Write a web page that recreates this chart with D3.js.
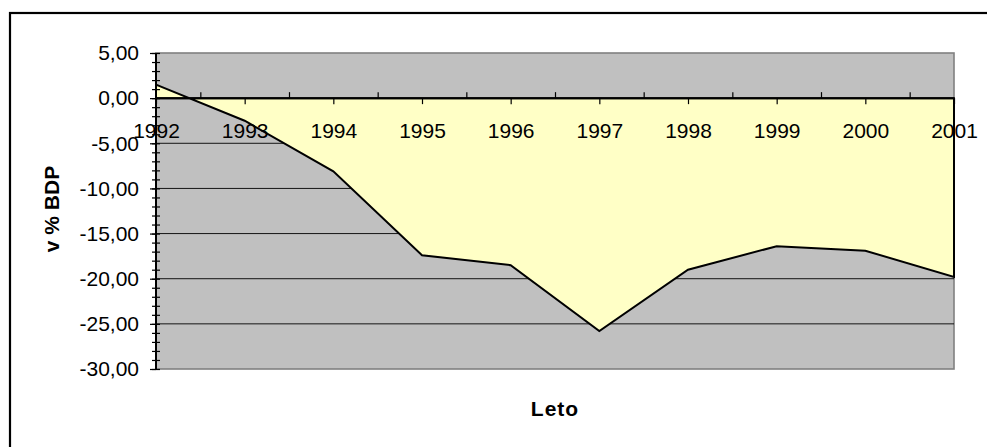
<!DOCTYPE html>
<html>
<head>
<meta charset="utf-8">
<script src="https://cdn.jsdelivr.net/npm/d3@7/dist/d3.min.js"></script>
<style>
  body { margin: 0; background: #fff; }
  svg { display: block; font-family: "Liberation Sans", Arial, sans-serif; }
  .axis path { display: none; }
  .axis line { stroke: #000; }
  .axis text { font-size: 21px; fill: #000; font-family: "Liberation Sans", Arial, sans-serif; }
  .title { font-size: 21px; font-weight: bold; fill: #000; }
</style>
</head>
<body>
<div id="chart"></div>
<script>
// Data
const years = [1992, 1993, 1994, 1995, 1996, 1997, 1998, 1999, 2000, 2001];
const values = [1.5, -2.5, -8.1, -17.4, -18.5, -25.8, -19.0, -16.4, -16.9, -19.8];
const yTicks = [5, 0, -5, -10, -15, -20, -25, -30];
const yTickLabels = ["5,00", "0,00", "-5,00", "-10,00", "-15,00", "-20,00", "-25,00", "-30,00"];
const yMinorTicks = d3.range(-30, 6, 1);
const xMinorTicks = years.slice(0, -1).map(d => d + 0.5);
const yTitle = "v % BDP";
const xTitle = "Leto";

function drawChart(width, height, selector) {

  ///////////////////////////////////////////
  //// Dimensions, scales and generators ////
  ///////////////////////////////////////////

  let margin = { top: 53, left: 156, right: 33, bottom: 78 };
  let chartWidth = width - margin.left - margin.right;
  let chartHeight = height - margin.top - margin.bottom;

  let xPositionScale = d3.scaleLinear()
    .domain([d3.min(years), d3.max(years)])
    .range([0, chartWidth]);

  let yPositionScale = d3.scaleLinear()
    .domain([-30, 5])
    .range([chartHeight, 0]);

  let area = d3.area()
    .x((d, i) => xPositionScale(years[i]))
    .y0(yPositionScale(0))
    .y1(d => yPositionScale(d));

  //////////////////////////
  /// Building the chart ///
  //////////////////////////

  let svg = d3.select(selector)
    .append("svg")
    .attr("width", width)
    .attr("height", height);

  // outer frame (right and bottom sides fall outside the picture)
  svg.append("rect")
    .attr("x", 10)
    .attr("y", 13)
    .attr("width", width + 20)
    .attr("height", height + 20)
    .attr("fill", "#fff")
    .attr("stroke", "#000")
    .attr("stroke-width", 2.2);

  let chart = svg.append("g")
    .attr("transform", "translate(" + margin.left + "," + margin.top + ")");

  // plot area
  chart.append("rect")
    .attr("width", chartWidth)
    .attr("height", chartHeight)
    .attr("fill", "#c0c0c0")
    .attr("stroke", "#808080")
    .attr("stroke-width", 1.6);

  // gridlines
  chart.append("g")
    .selectAll("line")
    .data(yTicks.filter(d => d < 0 && d > -30))
    .join("line")
    .attr("x1", 0)
    .attr("x2", chartWidth)
    .attr("y1", d => yPositionScale(d))
    .attr("y2", d => yPositionScale(d))
    .attr("stroke", "#000")
    .attr("stroke-width", 0.9);

  // area
  chart.append("path")
    .datum(values)
    .attr("d", area)
    .attr("fill", "#ffffc6")
    .attr("stroke", "#000")
    .attr("stroke-width", 2)
    .attr("stroke-linejoin", "miter");

  // zero line (category axis)
  chart.append("line")
    .attr("x1", 0)
    .attr("x2", chartWidth)
    .attr("y1", yPositionScale(0))
    .attr("y2", yPositionScale(0))
    .attr("stroke", "#000")
    .attr("stroke-width", 2);

  // x axis: major ticks down at years, minor ticks up in between
  let xAxis = d3.axisBottom(xPositionScale)
    .tickValues(years)
    .tickSize(6)
    .tickFormat(d3.format("d"));

  let xAxisG = chart.append("g")
    .attr("class", "axis x-axis")
    .attr("transform", "translate(0," + yPositionScale(0) + ")")
    .call(xAxis);

  xAxisG.selectAll(".tick line").attr("stroke-width", 1.2);

  let xMinor = d3.axisTop(xPositionScale)
    .tickValues(xMinorTicks)
    .tickSize(6)
    .tickFormat("");

  chart.append("g")
    .attr("class", "axis x-minor")
    .attr("transform", "translate(0," + yPositionScale(0) + ")")
    .call(xMinor)
    .selectAll(".tick line").attr("stroke-width", 1.2);

  // y axis line
  chart.append("line")
    .attr("x1", 0)
    .attr("x2", 0)
    .attr("y1", 0)
    .attr("y2", chartHeight)
    .attr("stroke", "#000")
    .attr("stroke-width", 2);

  // y minor ticks, crossing the axis
  let yMinor = d3.axisLeft(yPositionScale)
    .tickValues(yMinorTicks)
    .tickSize(8)
    .tickFormat("");

  chart.append("g")
    .attr("class", "axis y-minor")
    .attr("transform", "translate(4,0)")
    .call(yMinor)
    .selectAll(".tick line").attr("stroke-width", 1.2);

  let yAxis = d3.axisLeft(yPositionScale)
    .tickValues(yTicks)
    .tickSize(6)
    .tickPadding(11)
    .tickFormat((d, i) => yTickLabels[i]);

  chart.append("g")
    .attr("class", "axis y-axis")
    .call(yAxis)
    .selectAll(".tick line").attr("stroke-width", 1.2);

  // year labels sit below the zero line, over the plot
  xAxisG.raise();
  xAxisG.selectAll(".tick text")
    .attr("y", 40)
    .attr("dy", 0);

  // axis titles
  svg.append("text")
    .attr("class", "title")
    .attr("text-anchor", "middle")
    .attr("transform", "translate(59," + (margin.top + chartHeight / 2 - 2) + ") rotate(-90)")
    .text(yTitle);

  svg.append("text")
    .attr("class", "title")
    .attr("text-anchor", "middle")
    .attr("x", margin.left + chartWidth / 2)
    .attr("y", 416)
    .attr("letter-spacing", 1)
    .text(xTitle);
}

drawChart(987, 447, "#chart");
</script>
</body>
</html>
